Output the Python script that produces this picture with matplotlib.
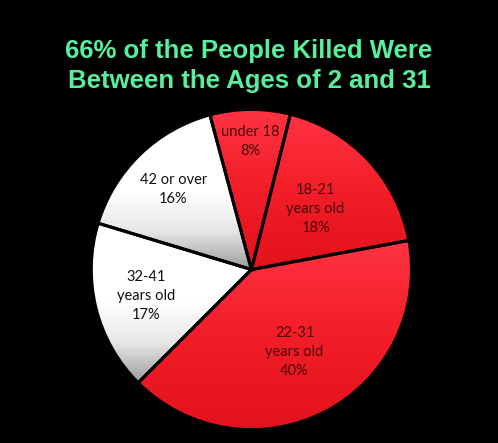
import numpy as np
import matplotlib.pyplot as plt
from matplotlib.colors import LinearSegmentedColormap

# data
groups = ["under 18", "18-21\nyears old", "22-31\nyears old", "32-41\nyears old", "42 or over"]
shares = [8, 18, 40, 17, 16]
is_red = [True, True, True, False, False]
label_dist = [0.80, 0.55, 0.58, 0.68, 0.70]
title = "66% of the People Killed Were\nBetween the Ages of 2 and 31"

fig = plt.figure(figsize=(4.98, 4.43), dpi=100, facecolor="black")
ax = fig.add_axes([0.0, 0.0, 1.0, 1.0])
ax.set_facecolor("black")

wedges, _ = ax.pie(shares, startangle=105, counterclock=False, radius=1.0,
                   center=(0, 0), colors=["none"] * len(shares),
                   wedgeprops=dict(edgecolor="black", linewidth=2.2))

red_cmap = LinearSegmentedColormap.from_list("r", ["#e2121c", "#f21d28", "#ff3442"])
white_cmap = LinearSegmentedColormap.from_list(
    "w", [(0.0, "#9c9c9c"), (0.25, "#e6e6e6"), (0.5, "#ffffff"), (1.0, "#ffffff")])

for w, red in zip(wedges, is_red):
    bb = w.get_path().get_extents(w.get_transform() - ax.transData)
    grad = np.linspace(0, 1, 256).reshape(-1, 1)
    im = ax.imshow(grad, cmap=red_cmap if red else white_cmap, origin="lower",
                   extent=[bb.x0, bb.x1, bb.y0, bb.y1], aspect="auto", zorder=0.5)
    im.set_clip_path(w)
    w.set_zorder(1)

for w, name, pct, red, d in zip(wedges, groups, shares, is_red, label_dist):
    ang = np.deg2rad((w.theta1 + w.theta2) / 2)
    ax.text(d * np.cos(ang), d * np.sin(ang), f"{name}\n{pct}%",
            ha="center", va="center", fontsize=10.5, family="Lato",
            color="#4a0606" if red else "#101010", linespacing=1.45, zorder=3)

ax.set_xlim(-1.57, 1.54)
ax.set_ylim(-1.08, 1.68)
ax.set_aspect("equal")
ax.axis("off")

fig.text(0.5, 0.852, title, ha="center", va="center", fontsize=18.5,
         fontweight="bold", family="Liberation Sans", color="#58ee9c", linespacing=1.32)

fig.savefig("out.png", dpi=100, facecolor="black")
